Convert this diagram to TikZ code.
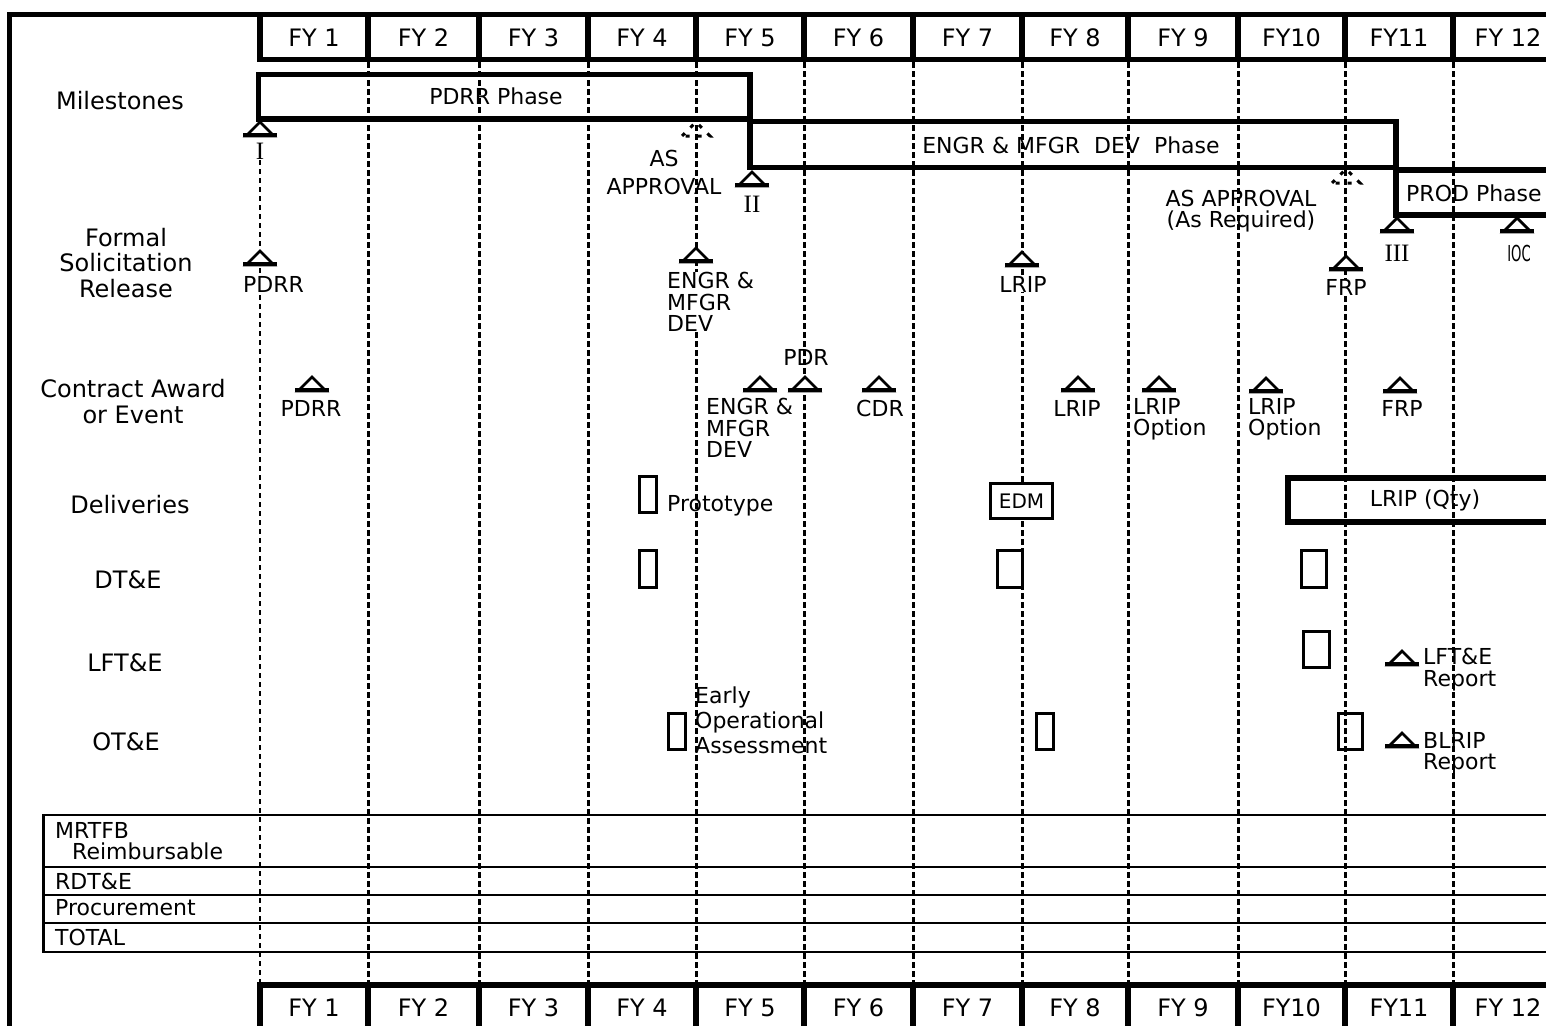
\documentclass[tikz,border=0pt]{standalone}
\usepackage{fontspec}
\setmainfont{DejaVu Sans}
\newfontfamily\romfont{Liberation Serif}
\tikzset{
    rowlbl/.style ={font=\fontsize{24}{25.5}\selectfont, align=center, inner sep=0pt},
    fytxt/.style ={font=\fontsize{24}{26}\selectfont, inner sep=0pt},
    phtxt/.style ={font=\fontsize{22}{24}\selectfont, inner sep=0pt},
    evt/.style ={font=\fontsize{22}{21.5}\selectfont, inner sep=0pt, align=left},
    tbl/.style ={font=\fontsize{22}{22}\selectfont, inner sep=0pt, anchor=west},
    rom/.style ={font=\romfont\fontsize{25}{25}\selectfont, inner sep=0pt},
    fygrid/.style ={line width=3pt, dash pattern=on 6pt off 3pt},
    heavy/.style ={line width=5.5pt},
    boxa/.style ={line width=3pt},
    mstone/.pic ={
        \filldraw[fill=white, line width=2.8pt] (-14,0) -- (0,-14) -- (14,0) -- cycle;
        \draw[line width=4pt] (-17,-1) -- (17,-1);},
    asappr/.pic ={
        \draw[line width=3pt, dash pattern=on 4pt off 8pt] (-14,0) -- (0,-14) -- (14,0) -- cycle;}}

\begin{document}
\begin{tikzpicture}[x=1pt,y=-1pt]
        \useasboundingbox (0,0) rectangle (1546,1025);
        \clip (0,0) rectangle (1546,1025);
        \fill[white] (0,0) rectangle (1546,1025);
        % year grid
        \foreach \gx in {368,479,588,696,804,913,1022,1128,1238,1345,1453}
            \draw[fygrid] (\gx,62) -- (\gx,984);
        \draw[line width=2.2pt, dash pattern=on 5pt off 4pt] (260,160) -- (260,984);
        % frame and year headers
        \draw[heavy] (9.5,1030) -- (9.5,14.5) -- (1560,14.5);
        \draw[heavy] (260,14.5) -- (260,59.5) -- (1560,59.5);
        \draw[heavy] (260,1030) -- (260,985) -- (1560,985);
        \foreach \gx in {368,479,588,696,804,913,1022,1128,1238,1345,1453}{
            \draw[heavy] (\gx,14.5) -- (\gx,59.5);
            \draw[heavy] (\gx,985) -- (\gx,1030);}
        \foreach \cx/\fy [count=\i] in {314/FY 1,423.5/FY 2,533.5/FY 3,642/FY 4,750/FY 5,858.5/FY 6,
                967.5/FY 7,1075/FY 8,1183/FY 9,1291.5/FY10,1399/FY11,1508/FY 12}{
            \node[fytxt] (fyt\i) at (\cx,38) {\fy};
            \node[fytxt] (fyb\i) at (\cx,1008) {\fy};}
        % row labels
        \node[rowlbl] (rmil) at (120,101) {Milestones};
        \node[rowlbl] (rfsr) at (126,263) {Formal\\Solicitation\\Release};
        \node[rowlbl] (rcae) at (133,401.5) {Contract Award\\or Event};
        \node[rowlbl] (rdel) at (130,505) {Deliveries};
        \node[rowlbl] (rdte) at (128,580) {DT\&E};
        \node[rowlbl] (rlft) at (125,663) {LFT\&E};
        \node[rowlbl] (rote) at (126,742) {OT\&E};
        % phases
        \draw[heavy] (258.5,74.5) rectangle (750,119);
        \draw[heavy] (750,121.5) rectangle (1396,167.5);
        \draw[heavy] (1570,170) -- (1396,170) -- (1396,215) -- (1570,215);
        \node[phtxt] (pdrr) at (496,96) {PDRR Phase};
        \node[phtxt] (emd) at (1071,145) {ENGR \& MFGR\ \ DEV\ \ Phase};
        \node[phtxt, anchor=west] (prod) at (1406,193) {PROD Phase};
        % milestones
        \pic at (260,136) {mstone};
        \node[rom] (m1) at (260,151) {I};
        \pic at (752,186) {mstone};
        \node[rom] (m2) at (752,204) {II};
        \pic at (1397,232) {mstone};
        \node[rom] (m3) at (1397,253) {III};
        \pic at (1517,232) {mstone};
        \node[evt] (ioc) at (1519,253) {\scalebox{0.6}[1]{IOC}};
        \pic at (696,136) {asappr};
        \node[evt, align=center, font=\fontsize{22}{28}\selectfont] (as1) at (664,172) {AS\\APPROVAL};
        \pic at (1346,183) {asappr};
        \node[evt, align=center] (as2) at (1241,211) {AS APPROVAL\\(As Required)};
        % formal solicitation release
        \pic at (260,265) {mstone};
        \node[evt, fill=white, anchor=north west] (f1) at (243,276) {PDRR};
        \pic at (696,262) {mstone};
        \node[evt, fill=white, anchor=north west] (f2) at (667,272) {ENGR \&\\MFGR\\DEV};
        \pic at (1022,266) {mstone};
        \node[evt, fill=white] (f3) at (1023,284) {LRIP};
        \pic at (1346,270) {mstone};
        \node[evt, fill=white] (f4) at (1346,287) {FRP};
        % contract award or event
        \pic at (312,391) {mstone};
        \node[evt] (c1) at (311,408) {PDRR};
        \pic at (760,391) {mstone};
        \node[evt, anchor=north west] (c2) at (706,398) {ENGR \&\\MFGR\\DEV};
        \pic at (805,391) {mstone};
        \node[evt] (c3) at (806,357) {PDR};
        \pic at (879,391) {mstone};
        \node[evt] (c4) at (880,408) {CDR};
        \pic at (1078,391) {mstone};
        \node[evt] (c5) at (1077,408) {LRIP};
        \pic at (1159,391) {mstone};
        \node[evt, anchor=north west] (c6) at (1133,398) {LRIP\\Option};
        \pic at (1266,392) {mstone};
        \node[evt, anchor=north west] (c7) at (1248,398) {LRIP\\Option};
        \pic at (1400,392) {mstone};
        \node[evt] (c8) at (1402,408) {FRP};
        % deliveries
        \draw[boxa] (639.5,476.5) rectangle (656,512);
        \node[evt, anchor=west] (d1) at (667,506) {Prototype};
        \node[draw, line width=3pt, fill=white, minimum width=62, minimum height=35,
              font=\fontsize{20}{20}\selectfont, inner sep=0pt] (d2) at (1021.5,501) {EDM};
        \draw[heavy] (1570,478) -- (1288,478) -- (1288,522) -- (1570,522);
        \node[evt] (d3) at (1425,500) {LRIP (Qty)};
        % DT&E
        \draw[boxa] (639.5,550) rectangle (656,587);
        \draw[boxa] (997,550) rectangle (1022,587);
        \draw[boxa] (1301,550) rectangle (1326,587);
        % LFT&E
        \draw[boxa] (1303,631) rectangle (1329,667);
        \pic at (1402,665) {mstone};
        \node[evt, anchor=north west] (l1) at (1423,648) {LFT\&E\\Report};
        % OT&E
        \draw[boxa] (668.5,713) rectangle (685,749);
        \node[evt, anchor=north west, font=\fontsize{22}{25}\selectfont] (o1) at (695,687) {Early\\Operational\\Assessment};
        \draw[boxa] (1036.5,713) rectangle (1053,749);
        \draw[boxa] (1338,713) rectangle (1362,749);
        \pic at (1402,747) {mstone};
        \node[evt, anchor=north west] (o2) at (1423,732) {BLRIP\\Report};
        % funding table
        \draw[line width=2.5pt] (1570,815) -- (43.5,815) -- (43.5,952) -- (1570,952);
        \foreach \ty in {867,895,923}
            \draw[line width=2.5pt] (43.5,\ty) -- (1570,\ty);
        \node[tbl] (t1) at (55,830) {MRTFB};
        \node[tbl] (t2) at (72,851) {Reimbursable};
        \node[tbl] (t3) at (55,881) {RDT\&E};
        \node[tbl] (t4) at (55,908) {Procurement};
        \node[tbl] (t5) at (55,937) {TOTAL};
    \end{tikzpicture}
\end{document}
